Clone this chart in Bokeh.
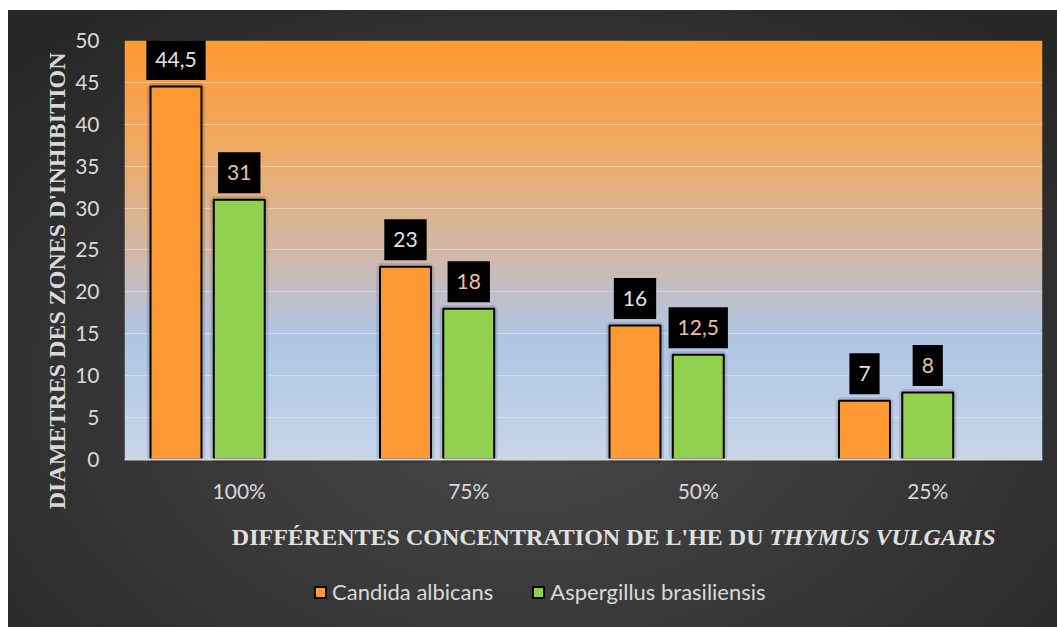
import numpy as np
from bokeh.plotting import figure
from bokeh.models import (ColumnDataSource, FactorRange, FixedTicker, Legend, LegendItem,
                          Range1d, Span, Title)
from bokeh.transform import dodge
from bokeh.core.properties import value
from bokeh.embed import file_html
from bokeh.resources import INLINE

# ---- data ----
categories = ["100%", "75%", "50%", "25%"]
candida = [44.5, 23, 16, 7]
aspergillus = [31, 18, 12.5, 8]
series_names = ["Candida albicans", "Aspergillus brasiliensis"]
y_ticks = [0, 5, 10, 15, 20, 25, 30, 35, 40, 45, 50]
y_title = "DIAMETRES DES ZONES D'INHIBITION"
x_title_plain = "DIFFÉRENTES CONCENTRATION DE L'HE DU"
x_title_italic = "THYMUS VULGARIS"


def fmt(v):
    return f"{v:g}".replace(".", ",")


src = ColumnDataSource(dict(
    cat=categories,
    candida=candida,
    asp=aspergillus,
    lc=[fmt(v) for v in candida],
    la=[fmt(v) for v in aspergillus],
))

# frame covers plot area and the space below it (for titles / legend)
p = figure(
    x_range=FactorRange(*categories, range_padding=0),
    y_range=Range1d(-20.05, 50),
    frame_width=918, frame_height=587,
    min_border_left=124, min_border_top=40, min_border_right=15, min_border_bottom=0,
    x_axis_location=None,
    output_backend="svg", toolbar_location=None,
)
p.border_fill_color = None
p.background_fill_color = None
p.outline_line_color = None
p.styles = {"background": "radial-gradient(ellipse 70% 80% at 50% 62%, #484848 0%, #3a3a3a 45%, #262626 100%) "
                          "8px 10px / 1049px 617px no-repeat, #ffffff"}

# plot-area vertical gradient (0..50)
stops = [(0.0, (255, 153, 51)), (0.25, (240, 170, 100)), (0.5, (210, 184, 165)),
         (0.62, (190, 192, 206)), (0.72, (176, 198, 228)), (1.0, (200, 214, 234))]
n = 200
img = np.zeros((n, 2), dtype=np.uint32)
view = img.view(dtype=np.uint8).reshape((n, 2, 4))
fr = np.linspace(1, 0, n)  # row 0 is bottom
sf = [s[0] for s in stops]
for ch in range(3):
    view[:, :, ch] = np.interp(fr, sf, [s[1][ch] for s in stops])[:, None].astype(np.uint8)
view[:, :, 3] = 255
p.image_rgba(image=[img], x=0, y=0, dw=len(categories), dh=50, level="image")

# grid / axis
p.xgrid.grid_line_color = None
p.ygrid.grid_line_color = "white"
p.ygrid.grid_line_alpha = 0.35
p.yaxis.ticker = FixedTicker(ticks=y_ticks)
p.yaxis.major_tick_line_color = None
p.yaxis.minor_tick_line_color = None
p.yaxis.axis_line_color = None
p.yaxis.major_label_text_color = "#d9d9d9"
p.yaxis.major_label_text_font = "Lato"
p.yaxis.major_label_text_font_size = "21px"
p.yaxis.major_label_standoff = 19
p.add_layout(Span(location=0, dimension="width", line_color="#d6d6d6", line_width=2))

# y title
p.add_layout(Title(text=y_title, align="right", offset=12, text_font="Liberation Serif",
                   text_font_style="bold", text_font_size="24px", text_color="#d9d9d9",
                   standoff=6), "left")

# soft bar shadows
for dx, col in ((-0.2756, "candida"), (0.0, "asp")):
    p.vbar(x=dodge("cat", dx, range=p.x_range), top=col, width=0.222, source=src,
           fill_color=None, line_color="black", line_alpha=0.12, line_width=7)

# bars
r_c = p.vbar(x=dodge("cat", -0.2756, range=p.x_range), top="candida", width=0.222, source=src,
             fill_color="#FF9933", line_color="black", line_width=2)
r_a = p.vbar(x=dodge("cat", 0.0, range=p.x_range), top="asp", width=0.222, source=src,
             fill_color="#92D050", line_color="black", line_width=2)

# data labels
p.text(x=dodge("cat", -0.2756, range=p.x_range), y="candida", text="lc", source=src,
       text_align="center", text_baseline="middle", y_offset=-27,
       text_font=value("Lato"), text_font_size="21px", text_color="#e2e2e2",
       background_fill_color="black", padding=(9, 13))
p.text(x=dodge("cat", 0.0, range=p.x_range), y="asp", text="la", source=src,
       text_align="center", text_baseline="middle", y_offset=-27,
       text_font=value("Lato"), text_font_size="21px", text_color="#e8c0a4",
       background_fill_color="black", padding=(9, 13))

# category labels under the plot area
p.text(x="cat", y=0, text="cat", source=src, text_align="center", text_baseline="middle",
       y_offset=31, text_font=value("Lato"), text_font_size="21px", text_color="#d9d9d9")

# x title (plain + italic parts)
p.text(x=[0], y=[0], text=[x_title_plain], x_offset=639, y_offset=78,
       text_align="right", text_baseline="middle",
       text_font=value("Liberation Serif"), text_font_style="bold",
       text_font_size="24px", text_color="#e0e0e0")
p.text(x=[0], y=[0], text=[x_title_italic], x_offset=645, y_offset=78,
       text_align="left", text_baseline="middle",
       text_font=value("Liberation Serif"), text_font_style="bold italic",
       text_font_size="24px", text_color="#e0e0e0")

# legend
legend = Legend(items=[LegendItem(label=series_names[0], renderers=[r_c]),
                       LegendItem(label=series_names[1], renderers=[r_a])],
                orientation="horizontal", location=(189, 22),
                background_fill_color=None, border_line_color=None,
                label_text_color="#d9d9d9", label_text_font="Lato", label_text_font_size="22px",
                glyph_width=14, glyph_height=14, spacing=38, padding=5, margin=0,
                label_standoff=5)
p.add_layout(legend, "center")

open("out.html", "w").write(file_html(p, INLINE))
